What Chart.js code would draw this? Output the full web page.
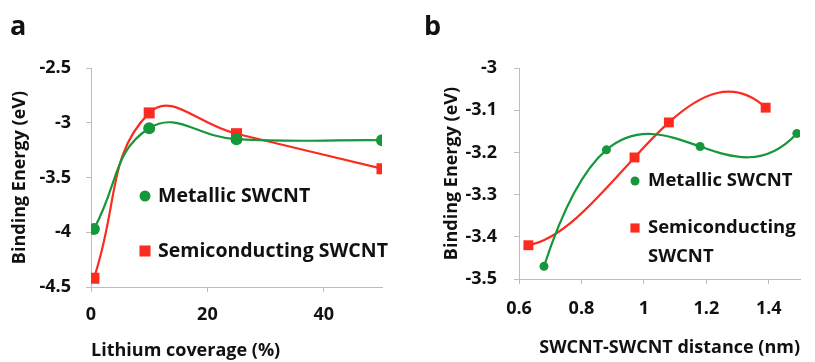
<!DOCTYPE html>
<html>
<head>
<meta charset="utf-8">
<script src="https://cdn.jsdelivr.net/npm/chart.js@4/dist/chart.umd.min.js"></script>
<style>
    html, body {
        margin: 0;
        padding: 0;
        background: #ffffff;
    }
    #figure {
        position: relative;
        width: 815px;
        height: 362px;
    }
    .panel {
        position: absolute;
        top: 0;
        height: 362px;
    }
    #panelA {
        left: 0;
        width: 410px;
    }
    #panelB {
        left: 410px;
        width: 405px;
    }
</style>
</head>
<body>
<div id="figure">
    <div class="panel" id="panelA"><canvas id="coverageChart"></canvas></div>
    <div class="panel" id="panelB"><canvas id="distanceChart"></canvas></div>
</div>
<script>
// panel a: binding energy vs lithium coverage
const coverage = [0.5, 10, 25, 50];
const metallicByCoverage = [-3.97, -3.05, -3.15, -3.16];
const semiByCoverage = [-4.42, -2.91, -3.10, -3.42];
const coverageTicks = [0, 20, 40];
const coverageMax = 50;
const energyTicksA = [-4.5, -4, -3.5, -3, -2.5];

// panel b: binding energy vs tube-tube distance
const metallicDistance = [0.68, 0.88, 1.18, 1.49];
const metallicByDistance = [-3.47, -3.194, -3.186, -3.155];
const semiDistance = [0.63, 0.97, 1.08, 1.39];
const semiByDistance = [-3.42, -3.212, -3.129, -3.094];
const distanceTicks = [0.6, 0.8, 1, 1.2, 1.4];
const distanceMax = 1.5;
const energyTicksB = [-3.5, -3.4, -3.3, -3.2, -3.1, -3];

const GREEN = "#17973b";
const RED = "#fb2b1f";
const AXIS_GREY = "#bdbdbd";
const TEXT = "#111111";
const FONT = "'Open Sans', 'Liberation Sans', sans-serif";

Chart.defaults.font.family = FONT;
Chart.defaults.font.weight = "bold";
Chart.defaults.color = TEXT;

function toPoints(xs, ys) {
    return xs.map((x, i) => ({ x: x, y: ys[i] }));
}

// panel b uses polynomial (order 3) trend curves through the points.
// The curve is the interpolating cubic of the pixel points; each segment
// gets the bezier control points of that cubic.
const trendCurves = {
    id: "trendCurves",
    beforeDatasetDraw(chart, args) {
        const meta = args.meta;
        const line = meta.dataset;
        const pts = meta.data;
        if (!line || pts.length < 3) return;
        line.updateControlPoints(chart.chartArea, meta.iScale.axis);

        const xs = pts.map(p => p.x);
        const c = pts.map(p => p.y);
        const n = xs.length;
        for (let j = 1; j < n; j++) {
            for (let i = n - 1; i >= j; i--) {
                c[i] = (c[i] - c[i - 1]) / (xs[i] - xs[i - j]);
            }
        }
        const slopeAt = x => {
            let p = c[n - 1];
            let dp = 0;
            for (let k = n - 2; k >= 0; k--) {
                dp = dp * (x - xs[k]) + p;
                p = p * (x - xs[k]) + c[k];
            }
            return dp;
        };

        pts.forEach((pt, i) => {
            const m = slopeAt(pt.x);
            const hPrev = i > 0 ? (pt.x - xs[i - 1]) / 3 : 0;
            const hNext = i < n - 1 ? (xs[i + 1] - pt.x) / 3 : 0;
            pt.cp1x = pt.x - hPrev;
            pt.cp1y = pt.y - m * hPrev;
            pt.cp2x = pt.x + hNext;
            pt.cp2y = pt.y + m * hNext;
        });
    }
};

// draws the panel letter and the in-plot legend
const figureText = {
    id: "figureText",
    afterDraw(chart, args, opts) {
        const ctx = chart.ctx;
        ctx.save();
        ctx.fillStyle = TEXT;
        ctx.textAlign = "left";
        ctx.textBaseline = "alphabetic";
        ctx.font = "bold 27px " + FONT;
        ctx.fillText(opts.letter, opts.letterX, opts.letterY);

        ctx.font = "bold " + opts.fontSize + "px " + FONT;
        ctx.textBaseline = "middle";
        opts.items.forEach(item => {
            const ds = chart.data.datasets[item.dataset];
            ctx.fillStyle = ds.borderColor;
            Chart.helpers.drawPoint(ctx, {
                pointStyle: ds.pointStyle,
                radius: item.radius,
                rotation: 0,
                borderWidth: 0
            }, item.x, item.y);

            // wrap the label into lines if it is too wide
            const words = ds.label.split(" ");
            const lines = [];
            let line = "";
            words.forEach(w => {
                const test = line ? line + " " + w : w;
                if (item.maxWidth && line && ctx.measureText(test).width > item.maxWidth) {
                    lines.push(line);
                    line = w;
                } else {
                    line = test;
                }
            });
            lines.push(line);

            ctx.fillStyle = TEXT;
            lines.forEach((l, i) => {
                ctx.fillText(l, item.textX, item.y + i * item.lineHeight);
            });
        });
        ctx.restore();
    }
};

function axisOptions(o) {
    return {
        type: "linear",
        min: o.min,
        max: o.max,
        afterBuildTicks: scale => {
            scale.ticks = o.ticks.map(v => ({ value: v }));
        },
        afterFit: scale => {
            if (o.width) scale.width = o.width;
            if (o.height) scale.height = o.height;
        },
        grid: {
            display: true,
            drawOnChartArea: false,
            drawTicks: true,
            tickLength: 5,
            color: AXIS_GREY
        },
        border: {
            display: true,
            color: AXIS_GREY,
            width: 1
        },
        ticks: {
            color: TEXT,
            padding: o.tickPadding,
            font: { family: FONT, size: 18, weight: "bold" },
            callback: v => String(v)
        },
        title: {
            display: true,
            text: o.title,
            color: TEXT,
            align: o.titleAlign || "center",
            padding: o.titlePadding,
            font: { family: FONT, size: 18, weight: "bold" }
        }
    };
}

function lineDataset(label, xs, ys, color, style, radius) {
    return {
        label: label,
        data: toPoints(xs, ys),
        borderColor: color,
        backgroundColor: color,
        borderWidth: 2.2,
        tension: 0.45,
        pointStyle: style,
        pointRadius: radius,
        pointBorderWidth: 0,
        pointBackgroundColor: color,
        fill: false
    };
}

function renderCoverageChart() {
    const canvas = document.getElementById("coverageChart");
    new Chart(canvas, {
        type: "line",
        data: {
            datasets: [
                lineDataset("Metallic SWCNT", coverage, metallicByCoverage, GREEN, "circle", 6),
                lineDataset("Semiconducting SWCNT", coverage, semiByCoverage, RED, "rect", 7.8)
            ]
        },
        options: {
            responsive: true,
            maintainAspectRatio: false,
            animation: false,
            layout: {
                padding: { top: 68, right: 28, left: 0, bottom: 0 }
            },
            plugins: {
                legend: { display: false },
                tooltip: { enabled: false },
                figureText: {
                    letter: "a",
                    letterX: 10,
                    letterY: 35,
                    fontSize: 19.5,
                    items: [
                        { dataset: 0, x: 145, y: 196, radius: 5.5, textX: 158, lineHeight: 28 },
                        { dataset: 1, x: 145, y: 251, radius: 7.8, textX: 158, lineHeight: 28 }
                    ]
                }
            },
            scales: {
                x: axisOptions({
                    min: 0,
                    max: coverageMax,
                    ticks: coverageTicks,
                    height: 75,
                    tickPadding: 12,
                    title: "Lithium coverage (%)",
                    titleAlign: "start",
                    titlePadding: { top: 0, bottom: 0 }
                }),
                y: axisOptions({
                    min: energyTicksA[0],
                    max: energyTicksA[energyTicksA.length - 1],
                    ticks: energyTicksA,
                    width: 91,
                    tickPadding: 15,
                    title: "Binding Energy (eV)",
                    titlePadding: { top: 9, bottom: 0 }
                })
            }
        },
        plugins: [figureText]
    });
}

function renderDistanceChart() {
    const canvas = document.getElementById("distanceChart");
    new Chart(canvas, {
        type: "line",
        data: {
            datasets: [
                lineDataset("Metallic SWCNT", metallicDistance, metallicByDistance, GREEN, "circle", 4.5),
                lineDataset("Semiconducting SWCNT", semiDistance, semiByDistance, RED, "rect", 7)
            ]
        },
        options: {
            responsive: true,
            maintainAspectRatio: false,
            animation: false,
            layout: {
                padding: { top: 68, right: 15, left: 0, bottom: 0 }
            },
            plugins: {
                legend: { display: false },
                tooltip: { enabled: false },
                figureText: {
                    letter: "b",
                    letterX: 14,
                    letterY: 35,
                    fontSize: 18.5,
                    items: [
                        { dataset: 0, x: 225, y: 181, radius: 4.5, textX: 238, lineHeight: 29, maxWidth: 160 },
                        { dataset: 1, x: 225, y: 228, radius: 6.5, textX: 238, lineHeight: 29, maxWidth: 160 }
                    ]
                }
            },
            scales: {
                x: axisOptions({
                    min: distanceTicks[0],
                    max: distanceMax,
                    ticks: distanceTicks,
                    height: 83,
                    tickPadding: 14,
                    title: "SWCNT-SWCNT distance (nm)",
                    titleAlign: "end",
                    titlePadding: { top: 0, bottom: 3 }
                }),
                y: axisOptions({
                    min: energyTicksB[0],
                    max: energyTicksB[energyTicksB.length - 1],
                    ticks: energyTicksB,
                    width: 109,
                    tickPadding: 17,
                    title: "Binding Energy (eV)",
                    titlePadding: { top: 31, bottom: 0 }
                })
            }
        },
        plugins: [figureText, trendCurves]
    });
}

window.addEventListener("DOMContentLoaded", () => {
    renderCoverageChart();
    renderDistanceChart();
});
</script>
</body>
</html>
